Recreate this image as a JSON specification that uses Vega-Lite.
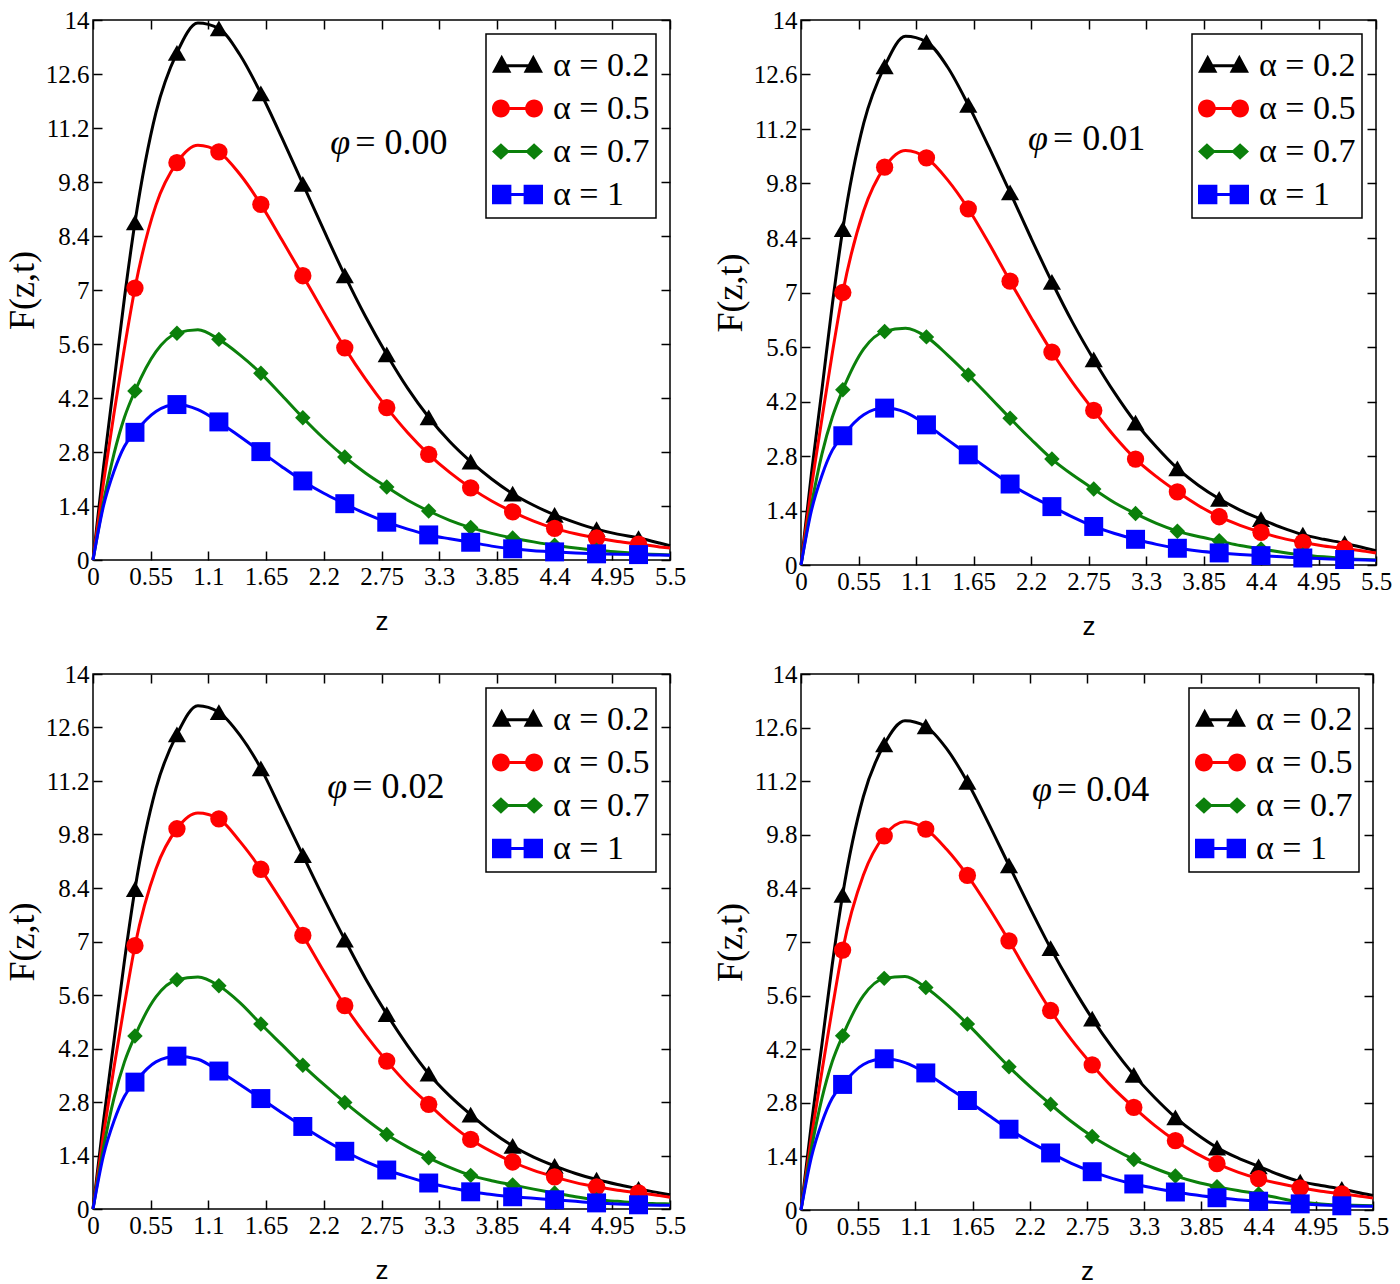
{
"$schema": "https://vega.github.io/schema/vega-lite/v6.json",
"background": "white",
"padding": {"left": 3, "top": 7, "right": 5, "bottom": 5},
"datasets": {
"notes": [
{"p":"0.00","z":2.5,"F":10.8,"t":"= 0.00"},
{"p":"0.01","z":2.41,"F":10.95,"t":"= 0.01"},
{"p":"0.02","z":2.47,"F":11.05,"t":"= 0.02"},
{"p":"0.04","z":2.46,"F":10.97,"t":"= 0.04"}
],
"curves": [
{"p":"0.00","s":"α = 0.2","z":0,"F":0},{"p":"0.00","s":"α = 0.2","z":0.1,"F":2.4},{"p":"0.00","s":"α = 0.2","z":0.2,"F":4.6},{"p":"0.00","s":"α = 0.2","z":0.3,"F":6.8},{"p":"0.00","s":"α = 0.2","z":0.4,"F":8.75,"m":1},{"p":"0.00","s":"α = 0.2","z":0.6,"F":11.6},{"p":"0.00","s":"α = 0.2","z":0.8,"F":13.15,"m":1},{"p":"0.00","s":"α = 0.2","z":1,"F":13.92},{"p":"0.00","s":"α = 0.2","z":1.2,"F":13.78,"m":1},{"p":"0.00","s":"α = 0.2","z":1.4,"F":13.1},{"p":"0.00","s":"α = 0.2","z":1.6,"F":12.1,"m":1},{"p":"0.00","s":"α = 0.2","z":1.8,"F":10.95},{"p":"0.00","s":"α = 0.2","z":2,"F":9.75,"m":1},{"p":"0.00","s":"α = 0.2","z":2.2,"F":8.55},{"p":"0.00","s":"α = 0.2","z":2.4,"F":7.38,"m":1},{"p":"0.00","s":"α = 0.2","z":2.6,"F":6.3},{"p":"0.00","s":"α = 0.2","z":2.8,"F":5.33,"m":1},{"p":"0.00","s":"α = 0.2","z":3,"F":4.45},{"p":"0.00","s":"α = 0.2","z":3.2,"F":3.7,"m":1},{"p":"0.00","s":"α = 0.2","z":3.4,"F":3.07},{"p":"0.00","s":"α = 0.2","z":3.6,"F":2.55,"m":1},{"p":"0.00","s":"α = 0.2","z":3.8,"F":2.1},{"p":"0.00","s":"α = 0.2","z":4,"F":1.72,"m":1},{"p":"0.00","s":"α = 0.2","z":4.2,"F":1.42},{"p":"0.00","s":"α = 0.2","z":4.4,"F":1.17,"m":1},{"p":"0.00","s":"α = 0.2","z":4.6,"F":0.97},{"p":"0.00","s":"α = 0.2","z":4.8,"F":0.8,"m":1},{"p":"0.00","s":"α = 0.2","z":5,"F":0.67},{"p":"0.00","s":"α = 0.2","z":5.2,"F":0.57,"m":1},{"p":"0.00","s":"α = 0.2","z":5.4,"F":0.44},{"p":"0.00","s":"α = 0.2","z":5.5,"F":0.37},
{"p":"0.00","s":"α = 0.5","z":0,"F":0},{"p":"0.00","s":"α = 0.5","z":0.1,"F":2.0},{"p":"0.00","s":"α = 0.5","z":0.2,"F":3.8},{"p":"0.00","s":"α = 0.5","z":0.3,"F":5.5},{"p":"0.00","s":"α = 0.5","z":0.4,"F":7.05,"m":1},{"p":"0.00","s":"α = 0.5","z":0.6,"F":9.2},{"p":"0.00","s":"α = 0.5","z":0.8,"F":10.3,"m":1},{"p":"0.00","s":"α = 0.5","z":1,"F":10.75},{"p":"0.00","s":"α = 0.5","z":1.2,"F":10.58,"m":1},{"p":"0.00","s":"α = 0.5","z":1.4,"F":10.0},{"p":"0.00","s":"α = 0.5","z":1.6,"F":9.22,"m":1},{"p":"0.00","s":"α = 0.5","z":1.8,"F":8.3},{"p":"0.00","s":"α = 0.5","z":2,"F":7.37,"m":1},{"p":"0.00","s":"α = 0.5","z":2.2,"F":6.42},{"p":"0.00","s":"α = 0.5","z":2.4,"F":5.5,"m":1},{"p":"0.00","s":"α = 0.5","z":2.6,"F":4.68},{"p":"0.00","s":"α = 0.5","z":2.8,"F":3.95,"m":1},{"p":"0.00","s":"α = 0.5","z":3,"F":3.3},{"p":"0.00","s":"α = 0.5","z":3.2,"F":2.74,"m":1},{"p":"0.00","s":"α = 0.5","z":3.4,"F":2.27},{"p":"0.00","s":"α = 0.5","z":3.6,"F":1.87,"m":1},{"p":"0.00","s":"α = 0.5","z":3.8,"F":1.53},{"p":"0.00","s":"α = 0.5","z":4,"F":1.25,"m":1},{"p":"0.00","s":"α = 0.5","z":4.2,"F":1.01},{"p":"0.00","s":"α = 0.5","z":4.4,"F":0.82,"m":1},{"p":"0.00","s":"α = 0.5","z":4.6,"F":0.68},{"p":"0.00","s":"α = 0.5","z":4.8,"F":0.57,"m":1},{"p":"0.00","s":"α = 0.5","z":5,"F":0.48},{"p":"0.00","s":"α = 0.5","z":5.2,"F":0.41,"m":1},{"p":"0.00","s":"α = 0.5","z":5.4,"F":0.34},{"p":"0.00","s":"α = 0.5","z":5.5,"F":0.31},
{"p":"0.00","s":"α = 0.7","z":0,"F":0},{"p":"0.00","s":"α = 0.7","z":0.1,"F":1.5},{"p":"0.00","s":"α = 0.7","z":0.2,"F":2.75},{"p":"0.00","s":"α = 0.7","z":0.3,"F":3.7},{"p":"0.00","s":"α = 0.7","z":0.4,"F":4.38,"m":1},{"p":"0.00","s":"α = 0.7","z":0.6,"F":5.4},{"p":"0.00","s":"α = 0.7","z":0.8,"F":5.88,"m":1},{"p":"0.00","s":"α = 0.7","z":1,"F":5.97},{"p":"0.00","s":"α = 0.7","z":1.2,"F":5.72,"m":1},{"p":"0.00","s":"α = 0.7","z":1.4,"F":5.32},{"p":"0.00","s":"α = 0.7","z":1.6,"F":4.84,"m":1},{"p":"0.00","s":"α = 0.7","z":1.8,"F":4.27},{"p":"0.00","s":"α = 0.7","z":2,"F":3.69,"m":1},{"p":"0.00","s":"α = 0.7","z":2.2,"F":3.15},{"p":"0.00","s":"α = 0.7","z":2.4,"F":2.67,"m":1},{"p":"0.00","s":"α = 0.7","z":2.6,"F":2.25},{"p":"0.00","s":"α = 0.7","z":2.8,"F":1.89,"m":1},{"p":"0.00","s":"α = 0.7","z":3,"F":1.55},{"p":"0.00","s":"α = 0.7","z":3.2,"F":1.27,"m":1},{"p":"0.00","s":"α = 0.7","z":3.4,"F":1.03},{"p":"0.00","s":"α = 0.7","z":3.6,"F":0.84,"m":1},{"p":"0.00","s":"α = 0.7","z":3.8,"F":0.69},{"p":"0.00","s":"α = 0.7","z":4,"F":0.57,"m":1},{"p":"0.00","s":"α = 0.7","z":4.2,"F":0.47},{"p":"0.00","s":"α = 0.7","z":4.4,"F":0.38,"m":1},{"p":"0.00","s":"α = 0.7","z":4.6,"F":0.31},{"p":"0.00","s":"α = 0.7","z":4.8,"F":0.25,"m":1},{"p":"0.00","s":"α = 0.7","z":5,"F":0.21},{"p":"0.00","s":"α = 0.7","z":5.2,"F":0.17,"m":1},{"p":"0.00","s":"α = 0.7","z":5.4,"F":0.14},{"p":"0.00","s":"α = 0.7","z":5.5,"F":0.13},
{"p":"0.00","s":"α = 1","z":0,"F":0},{"p":"0.00","s":"α = 1","z":0.1,"F":1.4},{"p":"0.00","s":"α = 1","z":0.2,"F":2.3},{"p":"0.00","s":"α = 1","z":0.3,"F":2.95},{"p":"0.00","s":"α = 1","z":0.4,"F":3.31,"m":1},{"p":"0.00","s":"α = 1","z":0.6,"F":3.85},{"p":"0.00","s":"α = 1","z":0.8,"F":4.03,"m":1},{"p":"0.00","s":"α = 1","z":1,"F":3.9},{"p":"0.00","s":"α = 1","z":1.2,"F":3.58,"m":1},{"p":"0.00","s":"α = 1","z":1.4,"F":3.2},{"p":"0.00","s":"α = 1","z":1.6,"F":2.81,"m":1},{"p":"0.00","s":"α = 1","z":1.8,"F":2.42},{"p":"0.00","s":"α = 1","z":2,"F":2.05,"m":1},{"p":"0.00","s":"α = 1","z":2.2,"F":1.73},{"p":"0.00","s":"α = 1","z":2.4,"F":1.46,"m":1},{"p":"0.00","s":"α = 1","z":2.6,"F":1.2},{"p":"0.00","s":"α = 1","z":2.8,"F":0.98,"m":1},{"p":"0.00","s":"α = 1","z":3,"F":0.8},{"p":"0.00","s":"α = 1","z":3.2,"F":0.65,"m":1},{"p":"0.00","s":"α = 1","z":3.4,"F":0.55},{"p":"0.00","s":"α = 1","z":3.6,"F":0.46,"m":1},{"p":"0.00","s":"α = 1","z":3.8,"F":0.36},{"p":"0.00","s":"α = 1","z":4,"F":0.29,"m":1},{"p":"0.00","s":"α = 1","z":4.2,"F":0.24},{"p":"0.00","s":"α = 1","z":4.4,"F":0.21,"m":1},{"p":"0.00","s":"α = 1","z":4.6,"F":0.18},{"p":"0.00","s":"α = 1","z":4.8,"F":0.16,"m":1},{"p":"0.00","s":"α = 1","z":5,"F":0.15},{"p":"0.00","s":"α = 1","z":5.2,"F":0.14,"m":1},{"p":"0.00","s":"α = 1","z":5.4,"F":0.13},{"p":"0.00","s":"α = 1","z":5.5,"F":0.12},

{"p":"0.01","s":"α = 0.2","z":0,"F":0},{"p":"0.01","s":"α = 0.2","z":0.1,"F":2.35},{"p":"0.01","s":"α = 0.2","z":0.2,"F":4.5},{"p":"0.01","s":"α = 0.2","z":0.3,"F":6.7},{"p":"0.01","s":"α = 0.2","z":0.4,"F":8.63,"m":1},{"p":"0.01","s":"α = 0.2","z":0.6,"F":11.35},{"p":"0.01","s":"α = 0.2","z":0.8,"F":12.81,"m":1},{"p":"0.01","s":"α = 0.2","z":1,"F":13.58},{"p":"0.01","s":"α = 0.2","z":1.2,"F":13.44,"m":1},{"p":"0.01","s":"α = 0.2","z":1.4,"F":12.8},{"p":"0.01","s":"α = 0.2","z":1.6,"F":11.82,"m":1},{"p":"0.01","s":"α = 0.2","z":1.8,"F":10.72},{"p":"0.01","s":"α = 0.2","z":2,"F":9.57,"m":1},{"p":"0.01","s":"α = 0.2","z":2.2,"F":8.4},{"p":"0.01","s":"α = 0.2","z":2.4,"F":7.27,"m":1},{"p":"0.01","s":"α = 0.2","z":2.6,"F":6.22},{"p":"0.01","s":"α = 0.2","z":2.8,"F":5.28,"m":1},{"p":"0.01","s":"α = 0.2","z":3,"F":4.42},{"p":"0.01","s":"α = 0.2","z":3.2,"F":3.66,"m":1},{"p":"0.01","s":"α = 0.2","z":3.4,"F":3.03},{"p":"0.01","s":"α = 0.2","z":3.6,"F":2.48,"m":1},{"p":"0.01","s":"α = 0.2","z":3.8,"F":2.05},{"p":"0.01","s":"α = 0.2","z":4,"F":1.7,"m":1},{"p":"0.01","s":"α = 0.2","z":4.2,"F":1.41},{"p":"0.01","s":"α = 0.2","z":4.4,"F":1.18,"m":1},{"p":"0.01","s":"α = 0.2","z":4.6,"F":0.96},{"p":"0.01","s":"α = 0.2","z":4.8,"F":0.78,"m":1},{"p":"0.01","s":"α = 0.2","z":5,"F":0.66},{"p":"0.01","s":"α = 0.2","z":5.2,"F":0.56,"m":1},{"p":"0.01","s":"α = 0.2","z":5.4,"F":0.43},{"p":"0.01","s":"α = 0.2","z":5.5,"F":0.37},
{"p":"0.01","s":"α = 0.5","z":0,"F":0},{"p":"0.01","s":"α = 0.5","z":0.1,"F":2.0},{"p":"0.01","s":"α = 0.5","z":0.2,"F":3.75},{"p":"0.01","s":"α = 0.5","z":0.3,"F":5.45},{"p":"0.01","s":"α = 0.5","z":0.4,"F":7.0,"m":1},{"p":"0.01","s":"α = 0.5","z":0.6,"F":9.1},{"p":"0.01","s":"α = 0.5","z":0.8,"F":10.22,"m":1},{"p":"0.01","s":"α = 0.5","z":1,"F":10.65},{"p":"0.01","s":"α = 0.5","z":1.2,"F":10.46,"m":1},{"p":"0.01","s":"α = 0.5","z":1.4,"F":9.9},{"p":"0.01","s":"α = 0.5","z":1.6,"F":9.15,"m":1},{"p":"0.01","s":"α = 0.5","z":1.8,"F":8.25},{"p":"0.01","s":"α = 0.5","z":2,"F":7.29,"m":1},{"p":"0.01","s":"α = 0.5","z":2.2,"F":6.36},{"p":"0.01","s":"α = 0.5","z":2.4,"F":5.47,"m":1},{"p":"0.01","s":"α = 0.5","z":2.6,"F":4.68},{"p":"0.01","s":"α = 0.5","z":2.8,"F":3.97,"m":1},{"p":"0.01","s":"α = 0.5","z":3,"F":3.3},{"p":"0.01","s":"α = 0.5","z":3.2,"F":2.72,"m":1},{"p":"0.01","s":"α = 0.5","z":3.4,"F":2.27},{"p":"0.01","s":"α = 0.5","z":3.6,"F":1.88,"m":1},{"p":"0.01","s":"α = 0.5","z":3.8,"F":1.53},{"p":"0.01","s":"α = 0.5","z":4,"F":1.24,"m":1},{"p":"0.01","s":"α = 0.5","z":4.2,"F":1.02},{"p":"0.01","s":"α = 0.5","z":4.4,"F":0.84,"m":1},{"p":"0.01","s":"α = 0.5","z":4.6,"F":0.69},{"p":"0.01","s":"α = 0.5","z":4.8,"F":0.58,"m":1},{"p":"0.01","s":"α = 0.5","z":5,"F":0.49},{"p":"0.01","s":"α = 0.5","z":5.2,"F":0.42,"m":1},{"p":"0.01","s":"α = 0.5","z":5.4,"F":0.35},{"p":"0.01","s":"α = 0.5","z":5.5,"F":0.31},
{"p":"0.01","s":"α = 0.7","z":0,"F":0},{"p":"0.01","s":"α = 0.7","z":0.1,"F":1.55},{"p":"0.01","s":"α = 0.7","z":0.2,"F":2.85},{"p":"0.01","s":"α = 0.7","z":0.3,"F":3.8},{"p":"0.01","s":"α = 0.7","z":0.4,"F":4.5,"m":1},{"p":"0.01","s":"α = 0.7","z":0.6,"F":5.55},{"p":"0.01","s":"α = 0.7","z":0.8,"F":6.0,"m":1},{"p":"0.01","s":"α = 0.7","z":1,"F":6.08},{"p":"0.01","s":"α = 0.7","z":1.2,"F":5.86,"m":1},{"p":"0.01","s":"α = 0.7","z":1.4,"F":5.4},{"p":"0.01","s":"α = 0.7","z":1.6,"F":4.88,"m":1},{"p":"0.01","s":"α = 0.7","z":1.8,"F":4.33},{"p":"0.01","s":"α = 0.7","z":2,"F":3.77,"m":1},{"p":"0.01","s":"α = 0.7","z":2.2,"F":3.23},{"p":"0.01","s":"α = 0.7","z":2.4,"F":2.72,"m":1},{"p":"0.01","s":"α = 0.7","z":2.6,"F":2.31},{"p":"0.01","s":"α = 0.7","z":2.8,"F":1.95,"m":1},{"p":"0.01","s":"α = 0.7","z":3,"F":1.6},{"p":"0.01","s":"α = 0.7","z":3.2,"F":1.32,"m":1},{"p":"0.01","s":"α = 0.7","z":3.4,"F":1.07},{"p":"0.01","s":"α = 0.7","z":3.6,"F":0.87,"m":1},{"p":"0.01","s":"α = 0.7","z":3.8,"F":0.73},{"p":"0.01","s":"α = 0.7","z":4,"F":0.62,"m":1},{"p":"0.01","s":"α = 0.7","z":4.2,"F":0.5},{"p":"0.01","s":"α = 0.7","z":4.4,"F":0.41,"m":1},{"p":"0.01","s":"α = 0.7","z":4.6,"F":0.33},{"p":"0.01","s":"α = 0.7","z":4.8,"F":0.26,"m":1},{"p":"0.01","s":"α = 0.7","z":5,"F":0.21},{"p":"0.01","s":"α = 0.7","z":5.2,"F":0.17,"m":1},{"p":"0.01","s":"α = 0.7","z":5.4,"F":0.14},{"p":"0.01","s":"α = 0.7","z":5.5,"F":0.13},
{"p":"0.01","s":"α = 1","z":0,"F":0},{"p":"0.01","s":"α = 1","z":0.1,"F":1.4},{"p":"0.01","s":"α = 1","z":0.2,"F":2.3},{"p":"0.01","s":"α = 1","z":0.3,"F":2.95},{"p":"0.01","s":"α = 1","z":0.4,"F":3.32,"m":1},{"p":"0.01","s":"α = 1","z":0.6,"F":3.86},{"p":"0.01","s":"α = 1","z":0.8,"F":4.03,"m":1},{"p":"0.01","s":"α = 1","z":1,"F":3.92},{"p":"0.01","s":"α = 1","z":1.2,"F":3.6,"m":1},{"p":"0.01","s":"α = 1","z":1.4,"F":3.22},{"p":"0.01","s":"α = 1","z":1.6,"F":2.83,"m":1},{"p":"0.01","s":"α = 1","z":1.8,"F":2.45},{"p":"0.01","s":"α = 1","z":2,"F":2.08,"m":1},{"p":"0.01","s":"α = 1","z":2.2,"F":1.77},{"p":"0.01","s":"α = 1","z":2.4,"F":1.5,"m":1},{"p":"0.01","s":"α = 1","z":2.6,"F":1.23},{"p":"0.01","s":"α = 1","z":2.8,"F":0.99,"m":1},{"p":"0.01","s":"α = 1","z":3,"F":0.81},{"p":"0.01","s":"α = 1","z":3.2,"F":0.66,"m":1},{"p":"0.01","s":"α = 1","z":3.4,"F":0.53},{"p":"0.01","s":"α = 1","z":3.6,"F":0.43,"m":1},{"p":"0.01","s":"α = 1","z":3.8,"F":0.36},{"p":"0.01","s":"α = 1","z":4,"F":0.31,"m":1},{"p":"0.01","s":"α = 1","z":4.2,"F":0.27},{"p":"0.01","s":"α = 1","z":4.4,"F":0.24,"m":1},{"p":"0.01","s":"α = 1","z":4.6,"F":0.21},{"p":"0.01","s":"α = 1","z":4.8,"F":0.18,"m":1},{"p":"0.01","s":"α = 1","z":5,"F":0.16},{"p":"0.01","s":"α = 1","z":5.2,"F":0.14,"m":1},{"p":"0.01","s":"α = 1","z":5.4,"F":0.13},{"p":"0.01","s":"α = 1","z":5.5,"F":0.12},

{"p":"0.02","s":"α = 0.2","z":0,"F":0},{"p":"0.02","s":"α = 0.2","z":0.1,"F":2.3},{"p":"0.02","s":"α = 0.2","z":0.2,"F":4.4},{"p":"0.02","s":"α = 0.2","z":0.3,"F":6.5},{"p":"0.02","s":"α = 0.2","z":0.4,"F":8.37,"m":1},{"p":"0.02","s":"α = 0.2","z":0.6,"F":11.0},{"p":"0.02","s":"α = 0.2","z":0.8,"F":12.42,"m":1},{"p":"0.02","s":"α = 0.2","z":1,"F":13.17},{"p":"0.02","s":"α = 0.2","z":1.2,"F":13.0,"m":1},{"p":"0.02","s":"α = 0.2","z":1.4,"F":12.4},{"p":"0.02","s":"α = 0.2","z":1.6,"F":11.53,"m":1},{"p":"0.02","s":"α = 0.2","z":1.8,"F":10.4},{"p":"0.02","s":"α = 0.2","z":2,"F":9.26,"m":1},{"p":"0.02","s":"α = 0.2","z":2.2,"F":8.13},{"p":"0.02","s":"α = 0.2","z":2.4,"F":7.05,"m":1},{"p":"0.02","s":"α = 0.2","z":2.6,"F":6.02},{"p":"0.02","s":"α = 0.2","z":2.8,"F":5.1,"m":1},{"p":"0.02","s":"α = 0.2","z":3,"F":4.27},{"p":"0.02","s":"α = 0.2","z":3.2,"F":3.54,"m":1},{"p":"0.02","s":"α = 0.2","z":3.4,"F":2.96},{"p":"0.02","s":"α = 0.2","z":3.6,"F":2.47,"m":1},{"p":"0.02","s":"α = 0.2","z":3.8,"F":2.02},{"p":"0.02","s":"α = 0.2","z":4,"F":1.65,"m":1},{"p":"0.02","s":"α = 0.2","z":4.2,"F":1.36},{"p":"0.02","s":"α = 0.2","z":4.4,"F":1.13,"m":1},{"p":"0.02","s":"α = 0.2","z":4.6,"F":0.93},{"p":"0.02","s":"α = 0.2","z":4.8,"F":0.77,"m":1},{"p":"0.02","s":"α = 0.2","z":5,"F":0.64},{"p":"0.02","s":"α = 0.2","z":5.2,"F":0.53,"m":1},{"p":"0.02","s":"α = 0.2","z":5.4,"F":0.42},{"p":"0.02","s":"α = 0.2","z":5.5,"F":0.37},
{"p":"0.02","s":"α = 0.5","z":0,"F":0},{"p":"0.02","s":"α = 0.5","z":0.1,"F":1.95},{"p":"0.02","s":"α = 0.5","z":0.2,"F":3.7},{"p":"0.02","s":"α = 0.5","z":0.3,"F":5.35},{"p":"0.02","s":"α = 0.5","z":0.4,"F":6.89,"m":1},{"p":"0.02","s":"α = 0.5","z":0.6,"F":8.9},{"p":"0.02","s":"α = 0.5","z":0.8,"F":9.95,"m":1},{"p":"0.02","s":"α = 0.5","z":1,"F":10.36},{"p":"0.02","s":"α = 0.5","z":1.2,"F":10.21,"m":1},{"p":"0.02","s":"α = 0.5","z":1.4,"F":9.62},{"p":"0.02","s":"α = 0.5","z":1.6,"F":8.89,"m":1},{"p":"0.02","s":"α = 0.5","z":1.8,"F":8.05},{"p":"0.02","s":"α = 0.5","z":2,"F":7.16,"m":1},{"p":"0.02","s":"α = 0.5","z":2.2,"F":6.22},{"p":"0.02","s":"α = 0.5","z":2.4,"F":5.32,"m":1},{"p":"0.02","s":"α = 0.5","z":2.6,"F":4.55},{"p":"0.02","s":"α = 0.5","z":2.8,"F":3.87,"m":1},{"p":"0.02","s":"α = 0.5","z":3,"F":3.26},{"p":"0.02","s":"α = 0.5","z":3.2,"F":2.74,"m":1},{"p":"0.02","s":"α = 0.5","z":3.4,"F":2.24},{"p":"0.02","s":"α = 0.5","z":3.6,"F":1.82,"m":1},{"p":"0.02","s":"α = 0.5","z":3.8,"F":1.5},{"p":"0.02","s":"α = 0.5","z":4,"F":1.23,"m":1},{"p":"0.02","s":"α = 0.5","z":4.2,"F":1.01},{"p":"0.02","s":"α = 0.5","z":4.4,"F":0.84,"m":1},{"p":"0.02","s":"α = 0.5","z":4.6,"F":0.69},{"p":"0.02","s":"α = 0.5","z":4.8,"F":0.58,"m":1},{"p":"0.02","s":"α = 0.5","z":5,"F":0.49},{"p":"0.02","s":"α = 0.5","z":5.2,"F":0.42,"m":1},{"p":"0.02","s":"α = 0.5","z":5.4,"F":0.35},{"p":"0.02","s":"α = 0.5","z":5.5,"F":0.31},
{"p":"0.02","s":"α = 0.7","z":0,"F":0},{"p":"0.02","s":"α = 0.7","z":0.1,"F":1.6},{"p":"0.02","s":"α = 0.7","z":0.2,"F":2.9},{"p":"0.02","s":"α = 0.7","z":0.3,"F":3.85},{"p":"0.02","s":"α = 0.7","z":0.4,"F":4.53,"m":1},{"p":"0.02","s":"α = 0.7","z":0.6,"F":5.55},{"p":"0.02","s":"α = 0.7","z":0.8,"F":6.0,"m":1},{"p":"0.02","s":"α = 0.7","z":1,"F":6.07},{"p":"0.02","s":"α = 0.7","z":1.2,"F":5.84,"m":1},{"p":"0.02","s":"α = 0.7","z":1.4,"F":5.4},{"p":"0.02","s":"α = 0.7","z":1.6,"F":4.84,"m":1},{"p":"0.02","s":"α = 0.7","z":1.8,"F":4.3},{"p":"0.02","s":"α = 0.7","z":2,"F":3.76,"m":1},{"p":"0.02","s":"α = 0.7","z":2.2,"F":3.26},{"p":"0.02","s":"α = 0.7","z":2.4,"F":2.79,"m":1},{"p":"0.02","s":"α = 0.7","z":2.6,"F":2.35},{"p":"0.02","s":"α = 0.7","z":2.8,"F":1.95,"m":1},{"p":"0.02","s":"α = 0.7","z":3,"F":1.62},{"p":"0.02","s":"α = 0.7","z":3.2,"F":1.34,"m":1},{"p":"0.02","s":"α = 0.7","z":3.4,"F":1.09},{"p":"0.02","s":"α = 0.7","z":3.6,"F":0.88,"m":1},{"p":"0.02","s":"α = 0.7","z":3.8,"F":0.74},{"p":"0.02","s":"α = 0.7","z":4,"F":0.63,"m":1},{"p":"0.02","s":"α = 0.7","z":4.2,"F":0.52},{"p":"0.02","s":"α = 0.7","z":4.4,"F":0.42,"m":1},{"p":"0.02","s":"α = 0.7","z":4.6,"F":0.32},{"p":"0.02","s":"α = 0.7","z":4.8,"F":0.24,"m":1},{"p":"0.02","s":"α = 0.7","z":5,"F":0.2},{"p":"0.02","s":"α = 0.7","z":5.2,"F":0.16,"m":1},{"p":"0.02","s":"α = 0.7","z":5.4,"F":0.14},{"p":"0.02","s":"α = 0.7","z":5.5,"F":0.13},
{"p":"0.02","s":"α = 1","z":0,"F":0},{"p":"0.02","s":"α = 1","z":0.1,"F":1.4},{"p":"0.02","s":"α = 1","z":0.2,"F":2.3},{"p":"0.02","s":"α = 1","z":0.3,"F":2.95},{"p":"0.02","s":"α = 1","z":0.4,"F":3.32,"m":1},{"p":"0.02","s":"α = 1","z":0.6,"F":3.85},{"p":"0.02","s":"α = 1","z":0.8,"F":4.0,"m":1},{"p":"0.02","s":"α = 1","z":1,"F":3.92},{"p":"0.02","s":"α = 1","z":1.2,"F":3.61,"m":1},{"p":"0.02","s":"α = 1","z":1.4,"F":3.26},{"p":"0.02","s":"α = 1","z":1.6,"F":2.89,"m":1},{"p":"0.02","s":"α = 1","z":1.8,"F":2.52},{"p":"0.02","s":"α = 1","z":2,"F":2.16,"m":1},{"p":"0.02","s":"α = 1","z":2.2,"F":1.82},{"p":"0.02","s":"α = 1","z":2.4,"F":1.51,"m":1},{"p":"0.02","s":"α = 1","z":2.6,"F":1.24},{"p":"0.02","s":"α = 1","z":2.8,"F":1.02,"m":1},{"p":"0.02","s":"α = 1","z":3,"F":0.84},{"p":"0.02","s":"α = 1","z":3.2,"F":0.68,"m":1},{"p":"0.02","s":"α = 1","z":3.4,"F":0.56},{"p":"0.02","s":"α = 1","z":3.6,"F":0.45,"m":1},{"p":"0.02","s":"α = 1","z":3.8,"F":0.38},{"p":"0.02","s":"α = 1","z":4,"F":0.32,"m":1},{"p":"0.02","s":"α = 1","z":4.2,"F":0.28},{"p":"0.02","s":"α = 1","z":4.4,"F":0.24,"m":1},{"p":"0.02","s":"α = 1","z":4.6,"F":0.2},{"p":"0.02","s":"α = 1","z":4.8,"F":0.16,"m":1},{"p":"0.02","s":"α = 1","z":5,"F":0.13},{"p":"0.02","s":"α = 1","z":5.2,"F":0.11,"m":1},{"p":"0.02","s":"α = 1","z":5.4,"F":0.1},{"p":"0.02","s":"α = 1","z":5.5,"F":0.1},

{"p":"0.04","s":"α = 0.2","z":0,"F":0},{"p":"0.04","s":"α = 0.2","z":0.1,"F":2.25},{"p":"0.04","s":"α = 0.2","z":0.2,"F":4.3},{"p":"0.04","s":"α = 0.2","z":0.3,"F":6.4},{"p":"0.04","s":"α = 0.2","z":0.4,"F":8.23,"m":1},{"p":"0.04","s":"α = 0.2","z":0.6,"F":10.8},{"p":"0.04","s":"α = 0.2","z":0.8,"F":12.16,"m":1},{"p":"0.04","s":"α = 0.2","z":1,"F":12.78},{"p":"0.04","s":"α = 0.2","z":1.2,"F":12.63,"m":1},{"p":"0.04","s":"α = 0.2","z":1.4,"F":12.05},{"p":"0.04","s":"α = 0.2","z":1.6,"F":11.18,"m":1},{"p":"0.04","s":"α = 0.2","z":1.8,"F":10.12},{"p":"0.04","s":"α = 0.2","z":2,"F":9.0,"m":1},{"p":"0.04","s":"α = 0.2","z":2.2,"F":7.9},{"p":"0.04","s":"α = 0.2","z":2.4,"F":6.84,"m":1},{"p":"0.04","s":"α = 0.2","z":2.6,"F":5.88},{"p":"0.04","s":"α = 0.2","z":2.8,"F":5.0,"m":1},{"p":"0.04","s":"α = 0.2","z":3,"F":4.22},{"p":"0.04","s":"α = 0.2","z":3.2,"F":3.53,"m":1},{"p":"0.04","s":"α = 0.2","z":3.4,"F":2.94},{"p":"0.04","s":"α = 0.2","z":3.6,"F":2.42,"m":1},{"p":"0.04","s":"α = 0.2","z":3.8,"F":1.99},{"p":"0.04","s":"α = 0.2","z":4,"F":1.63,"m":1},{"p":"0.04","s":"α = 0.2","z":4.2,"F":1.36},{"p":"0.04","s":"α = 0.2","z":4.4,"F":1.14,"m":1},{"p":"0.04","s":"α = 0.2","z":4.6,"F":0.92},{"p":"0.04","s":"α = 0.2","z":4.8,"F":0.74,"m":1},{"p":"0.04","s":"α = 0.2","z":5,"F":0.64},{"p":"0.04","s":"α = 0.2","z":5.2,"F":0.55,"m":1},{"p":"0.04","s":"α = 0.2","z":5.4,"F":0.43},{"p":"0.04","s":"α = 0.2","z":5.5,"F":0.38},
{"p":"0.04","s":"α = 0.5","z":0,"F":0},{"p":"0.04","s":"α = 0.5","z":0.1,"F":1.9},{"p":"0.04","s":"α = 0.5","z":0.2,"F":3.6},{"p":"0.04","s":"α = 0.5","z":0.3,"F":5.25},{"p":"0.04","s":"α = 0.5","z":0.4,"F":6.79,"m":1},{"p":"0.04","s":"α = 0.5","z":0.6,"F":8.75},{"p":"0.04","s":"α = 0.5","z":0.8,"F":9.77,"m":1},{"p":"0.04","s":"α = 0.5","z":1,"F":10.14},{"p":"0.04","s":"α = 0.5","z":1.2,"F":9.95,"m":1},{"p":"0.04","s":"α = 0.5","z":1.4,"F":9.42},{"p":"0.04","s":"α = 0.5","z":1.6,"F":8.74,"m":1},{"p":"0.04","s":"α = 0.5","z":1.8,"F":7.92},{"p":"0.04","s":"α = 0.5","z":2,"F":7.03,"m":1},{"p":"0.04","s":"α = 0.5","z":2.2,"F":6.1},{"p":"0.04","s":"α = 0.5","z":2.4,"F":5.21,"m":1},{"p":"0.04","s":"α = 0.5","z":2.6,"F":4.45},{"p":"0.04","s":"α = 0.5","z":2.8,"F":3.79,"m":1},{"p":"0.04","s":"α = 0.5","z":3,"F":3.19},{"p":"0.04","s":"α = 0.5","z":3.2,"F":2.68,"m":1},{"p":"0.04","s":"α = 0.5","z":3.4,"F":2.21},{"p":"0.04","s":"α = 0.5","z":3.6,"F":1.81,"m":1},{"p":"0.04","s":"α = 0.5","z":3.8,"F":1.48},{"p":"0.04","s":"α = 0.5","z":4,"F":1.21,"m":1},{"p":"0.04","s":"α = 0.5","z":4.2,"F":0.99},{"p":"0.04","s":"α = 0.5","z":4.4,"F":0.82,"m":1},{"p":"0.04","s":"α = 0.5","z":4.6,"F":0.69},{"p":"0.04","s":"α = 0.5","z":4.8,"F":0.58,"m":1},{"p":"0.04","s":"α = 0.5","z":5,"F":0.49},{"p":"0.04","s":"α = 0.5","z":5.2,"F":0.42,"m":1},{"p":"0.04","s":"α = 0.5","z":5.4,"F":0.35},{"p":"0.04","s":"α = 0.5","z":5.5,"F":0.31},
{"p":"0.04","s":"α = 0.7","z":0,"F":0},{"p":"0.04","s":"α = 0.7","z":0.1,"F":1.6},{"p":"0.04","s":"α = 0.7","z":0.2,"F":2.9},{"p":"0.04","s":"α = 0.7","z":0.3,"F":3.87},{"p":"0.04","s":"α = 0.7","z":0.4,"F":4.55,"m":1},{"p":"0.04","s":"α = 0.7","z":0.6,"F":5.6},{"p":"0.04","s":"α = 0.7","z":0.8,"F":6.05,"m":1},{"p":"0.04","s":"α = 0.7","z":1,"F":6.1},{"p":"0.04","s":"α = 0.7","z":1.2,"F":5.81,"m":1},{"p":"0.04","s":"α = 0.7","z":1.4,"F":5.37},{"p":"0.04","s":"α = 0.7","z":1.6,"F":4.86,"m":1},{"p":"0.04","s":"α = 0.7","z":1.8,"F":4.3},{"p":"0.04","s":"α = 0.7","z":2,"F":3.74,"m":1},{"p":"0.04","s":"α = 0.7","z":2.2,"F":3.23},{"p":"0.04","s":"α = 0.7","z":2.4,"F":2.76,"m":1},{"p":"0.04","s":"α = 0.7","z":2.6,"F":2.31},{"p":"0.04","s":"α = 0.7","z":2.8,"F":1.92,"m":1},{"p":"0.04","s":"α = 0.7","z":3,"F":1.6},{"p":"0.04","s":"α = 0.7","z":3.2,"F":1.32,"m":1},{"p":"0.04","s":"α = 0.7","z":3.4,"F":1.09},{"p":"0.04","s":"α = 0.7","z":3.6,"F":0.89,"m":1},{"p":"0.04","s":"α = 0.7","z":3.8,"F":0.73},{"p":"0.04","s":"α = 0.7","z":4,"F":0.61,"m":1},{"p":"0.04","s":"α = 0.7","z":4.2,"F":0.51},{"p":"0.04","s":"α = 0.7","z":4.4,"F":0.42,"m":1},{"p":"0.04","s":"α = 0.7","z":4.6,"F":0.31},{"p":"0.04","s":"α = 0.7","z":4.8,"F":0.21,"m":1},{"p":"0.04","s":"α = 0.7","z":5,"F":0.16},{"p":"0.04","s":"α = 0.7","z":5.2,"F":0.13,"m":1},{"p":"0.04","s":"α = 0.7","z":5.4,"F":0.12},{"p":"0.04","s":"α = 0.7","z":5.5,"F":0.11},
{"p":"0.04","s":"α = 1","z":0,"F":0},{"p":"0.04","s":"α = 1","z":0.1,"F":1.38},{"p":"0.04","s":"α = 1","z":0.2,"F":2.28},{"p":"0.04","s":"α = 1","z":0.3,"F":2.92},{"p":"0.04","s":"α = 1","z":0.4,"F":3.28,"m":1},{"p":"0.04","s":"α = 1","z":0.6,"F":3.8},{"p":"0.04","s":"α = 1","z":0.8,"F":3.95,"m":1},{"p":"0.04","s":"α = 1","z":1,"F":3.85},{"p":"0.04","s":"α = 1","z":1.2,"F":3.58,"m":1},{"p":"0.04","s":"α = 1","z":1.4,"F":3.22},{"p":"0.04","s":"α = 1","z":1.6,"F":2.86,"m":1},{"p":"0.04","s":"α = 1","z":1.8,"F":2.48},{"p":"0.04","s":"α = 1","z":2,"F":2.11,"m":1},{"p":"0.04","s":"α = 1","z":2.2,"F":1.78},{"p":"0.04","s":"α = 1","z":2.4,"F":1.49,"m":1},{"p":"0.04","s":"α = 1","z":2.6,"F":1.22},{"p":"0.04","s":"α = 1","z":2.8,"F":1.0,"m":1},{"p":"0.04","s":"α = 1","z":3,"F":0.82},{"p":"0.04","s":"α = 1","z":3.2,"F":0.68,"m":1},{"p":"0.04","s":"α = 1","z":3.4,"F":0.57},{"p":"0.04","s":"α = 1","z":3.6,"F":0.47,"m":1},{"p":"0.04","s":"α = 1","z":3.8,"F":0.39},{"p":"0.04","s":"α = 1","z":4,"F":0.32,"m":1},{"p":"0.04","s":"α = 1","z":4.2,"F":0.27},{"p":"0.04","s":"α = 1","z":4.4,"F":0.23,"m":1},{"p":"0.04","s":"α = 1","z":4.6,"F":0.19},{"p":"0.04","s":"α = 1","z":4.8,"F":0.16,"m":1},{"p":"0.04","s":"α = 1","z":5,"F":0.13},{"p":"0.04","s":"α = 1","z":5.2,"F":0.11,"m":1},{"p":"0.04","s":"α = 1","z":5.4,"F":0.1},{"p":"0.04","s":"α = 1","z":5.5,"F":0.1}
]
},
"data": {"name": "curves"},
"spacing": 21,
"resolve": {"scale": {"color": "independent", "shape": "independent"}, "legend": {"color": "independent", "shape": "independent"}},
"vconcat": [
{
"spacing": 24,
"resolve": {"scale": {"color": "independent", "shape": "independent"}, "legend": {"color": "independent", "shape": "independent"}},
"hconcat": [
{
"width": 577, "height": 540,
"transform": [{"filter": "datum.p == '0.00'"}],
"layer": [
{"mark": {"type": "line", "strokeWidth": 3, "interpolate": "monotone"},
 "encoding": {
  "x": {"field": "z", "type": "quantitative", "scale": {"domain": [0, 5.5], "nice": false, "zero": false}, "axis": {"values": [0,0.55,1.1,1.65,2.2,2.75,3.3,3.85,4.4,4.95,5.5], "format": ".3~g", "labelFont": "Liberation Serif", "title": "z", "titleFont": "Liberation Sans", "titleFontSize": 26, "titlePadding": 19, "labelFlush": false, "labelOverlap": false}},
  "y": {"field": "F", "type": "quantitative", "scale": {"domain": [0, 14], "nice": false, "zero": false}, "axis": {"values": [0,1.4,2.8,4.2,5.6,7,8.4,9.8,11.2,12.6,14], "format": ".3~g", "labelFont": "Liberation Serif", "title": "F(z,t)", "titleFont": "Liberation Serif", "titleFontSize": 36, "titlePadding": 4, "labelOverlap": false}},
  "color": {"field": "s", "type": "nominal", "scale": {"domain": ["α = 0.2","α = 0.5","α = 0.7","α = 1"], "range": ["#000000","#ff0000","#0b800b","#0000ff"]}}
 }},
{"transform": [{"filter": "datum.m == 1 && datum.s == 'α = 0.2'"}],
 "mark": {"type": "point", "filled": true, "opacity": 1, "shape": "triangle-up", "size": 330},
 "encoding": {
  "x": {"field": "z", "type": "quantitative", "axis": {"orient": "top", "values": [0,0.55,1.1,1.65,2.2,2.75,3.3,3.85,4.4,4.95,5.5], "labels": false, "title": null}},
  "y": {"field": "F", "type": "quantitative", "axis": {"orient": "right", "values": [0,1.4,2.8,4.2,5.6,7,8.4,9.8,11.2,12.6,14], "labels": false, "title": null}},
  "color": {"field": "s", "type": "nominal"}
 }},
{"transform": [{"filter": "datum.m == 1 && datum.s == 'α = 0.5'"}],
 "mark": {"type": "point", "filled": true, "opacity": 1, "shape": "circle", "size": 300},
 "encoding": {"x": {"field": "z", "type": "quantitative", "axis": null}, "y": {"field": "F", "type": "quantitative", "axis": null}, "color": {"field": "s", "type": "nominal"}}},
{"transform": [{"filter": "datum.m == 1 && datum.s == 'α = 0.7'"}],
 "mark": {"type": "point", "filled": true, "opacity": 1, "shape": "diamond", "size": 240},
 "encoding": {"x": {"field": "z", "type": "quantitative", "axis": null}, "y": {"field": "F", "type": "quantitative", "axis": null}, "color": {"field": "s", "type": "nominal"}}},
{"transform": [{"filter": "datum.m == 1 && datum.s == 'α = 1'"}],
 "mark": {"type": "point", "filled": true, "opacity": 1, "shape": "square", "size": 360},
 "encoding": {"x": {"field": "z", "type": "quantitative", "axis": null}, "y": {"field": "F", "type": "quantitative", "axis": null}, "color": {"field": "s", "type": "nominal"}}},
{"transform": [{"filter": "false"}],
 "mark": {"type": "point", "filled": true, "opacity": 1},
 "encoding": {
  "color": {"field": "s", "type": "nominal"},
  "shape": {"field": "s", "type": "nominal", "scale": {"domain": ["α = 0.2","α = 0.5","α = 0.7","α = 1"], "range": ["M-1,0.28L-0.62,-0.42L-0.24,0.28Z M0.24,0.28L0.62,-0.42L1,0.28Z M-0.62,-0.05H0.62V0.07H-0.62Z","M-1,0A0.35,0.35 0 1,1 -0.3,0A0.35,0.35 0 1,1 -1,0Z M0.3,0A0.35,0.35 0 1,1 1,0A0.35,0.35 0 1,1 0.3,0Z M-0.65,-0.06H0.65V0.06H-0.65Z","M-1,0L-0.65,-0.32L-0.3,0L-0.65,0.32Z M0.3,0L0.65,-0.32L1,0L0.65,0.32Z M-0.65,-0.06H0.65V0.06H-0.65Z","M-1,-0.38H-0.24V0.38H-1Z M0.24,-0.38H1V0.38H0.24Z M-0.62,-0.06H0.62V0.06H-0.62Z"]}}
 }},
{"data": {"name": "notes"}, "transform": [{"filter": "datum.p == '0.00'"}],
 "mark": {"type": "text", "font": "Liberation Serif", "fontSize": 36, "fontStyle": "italic", "align": "right", "baseline": "middle", "dx": -5, "color": "black"},
 "encoding": {"x": {"field": "z", "type": "quantitative", "axis": null}, "y": {"field": "F", "type": "quantitative", "axis": null}, "text": {"value": "φ"}}},
{"data": {"name": "notes"}, "transform": [{"filter": "datum.p == '0.00'"}],
 "mark": {"type": "text", "font": "Liberation Serif", "fontSize": 36, "align": "left", "baseline": "middle", "color": "black"},
 "encoding": {"x": {"field": "z", "type": "quantitative", "axis": null}, "y": {"field": "F", "type": "quantitative", "axis": null}, "text": {"field": "t"}}}
],
"resolve": {"axis": {"x": "independent", "y": "independent"}}
},
{
"width": 575, "height": 545,
"transform": [{"filter": "datum.p == '0.01'"}],
"layer": [
{"mark": {"type": "line", "strokeWidth": 3, "interpolate": "monotone"},
 "encoding": {
  "x": {"field": "z", "type": "quantitative", "scale": {"domain": [0, 5.5], "nice": false, "zero": false}, "axis": {"values": [0,0.55,1.1,1.65,2.2,2.75,3.3,3.85,4.4,4.95,5.5], "format": ".3~g", "labelFont": "Liberation Serif", "title": "z", "titleFont": "Liberation Sans", "titleFontSize": 26, "titlePadding": 19, "labelFlush": false, "labelOverlap": false}},
  "y": {"field": "F", "type": "quantitative", "scale": {"domain": [0, 14], "nice": false, "zero": false}, "axis": {"values": [0,1.4,2.8,4.2,5.6,7,8.4,9.8,11.2,12.6,14], "format": ".3~g", "labelFont": "Liberation Serif", "title": "F(z,t)", "titleFont": "Liberation Serif", "titleFontSize": 36, "titlePadding": 4, "labelOverlap": false}},
  "color": {"field": "s", "type": "nominal", "scale": {"domain": ["α = 0.2","α = 0.5","α = 0.7","α = 1"], "range": ["#000000","#ff0000","#0b800b","#0000ff"]}}
 }},
{"transform": [{"filter": "datum.m == 1 && datum.s == 'α = 0.2'"}],
 "mark": {"type": "point", "filled": true, "opacity": 1, "shape": "triangle-up", "size": 330},
 "encoding": {
  "x": {"field": "z", "type": "quantitative", "axis": {"orient": "top", "values": [0,0.55,1.1,1.65,2.2,2.75,3.3,3.85,4.4,4.95,5.5], "labels": false, "title": null}},
  "y": {"field": "F", "type": "quantitative", "axis": {"orient": "right", "values": [0,1.4,2.8,4.2,5.6,7,8.4,9.8,11.2,12.6,14], "labels": false, "title": null}},
  "color": {"field": "s", "type": "nominal"}
 }},
{"transform": [{"filter": "datum.m == 1 && datum.s == 'α = 0.5'"}],
 "mark": {"type": "point", "filled": true, "opacity": 1, "shape": "circle", "size": 300},
 "encoding": {"x": {"field": "z", "type": "quantitative", "axis": null}, "y": {"field": "F", "type": "quantitative", "axis": null}, "color": {"field": "s", "type": "nominal"}}},
{"transform": [{"filter": "datum.m == 1 && datum.s == 'α = 0.7'"}],
 "mark": {"type": "point", "filled": true, "opacity": 1, "shape": "diamond", "size": 240},
 "encoding": {"x": {"field": "z", "type": "quantitative", "axis": null}, "y": {"field": "F", "type": "quantitative", "axis": null}, "color": {"field": "s", "type": "nominal"}}},
{"transform": [{"filter": "datum.m == 1 && datum.s == 'α = 1'"}],
 "mark": {"type": "point", "filled": true, "opacity": 1, "shape": "square", "size": 360},
 "encoding": {"x": {"field": "z", "type": "quantitative", "axis": null}, "y": {"field": "F", "type": "quantitative", "axis": null}, "color": {"field": "s", "type": "nominal"}}},
{"transform": [{"filter": "false"}],
 "mark": {"type": "point", "filled": true, "opacity": 1},
 "encoding": {
  "color": {"field": "s", "type": "nominal"},
  "shape": {"field": "s", "type": "nominal", "scale": {"domain": ["α = 0.2","α = 0.5","α = 0.7","α = 1"], "range": ["M-1,0.28L-0.62,-0.42L-0.24,0.28Z M0.24,0.28L0.62,-0.42L1,0.28Z M-0.62,-0.05H0.62V0.07H-0.62Z","M-1,0A0.35,0.35 0 1,1 -0.3,0A0.35,0.35 0 1,1 -1,0Z M0.3,0A0.35,0.35 0 1,1 1,0A0.35,0.35 0 1,1 0.3,0Z M-0.65,-0.06H0.65V0.06H-0.65Z","M-1,0L-0.65,-0.32L-0.3,0L-0.65,0.32Z M0.3,0L0.65,-0.32L1,0L0.65,0.32Z M-0.65,-0.06H0.65V0.06H-0.65Z","M-1,-0.38H-0.24V0.38H-1Z M0.24,-0.38H1V0.38H0.24Z M-0.62,-0.06H0.62V0.06H-0.62Z"]}}
 }},
{"data": {"name": "notes"}, "transform": [{"filter": "datum.p == '0.01'"}],
 "mark": {"type": "text", "font": "Liberation Serif", "fontSize": 36, "fontStyle": "italic", "align": "right", "baseline": "middle", "dx": -5, "color": "black"},
 "encoding": {"x": {"field": "z", "type": "quantitative", "axis": null}, "y": {"field": "F", "type": "quantitative", "axis": null}, "text": {"value": "φ"}}},
{"data": {"name": "notes"}, "transform": [{"filter": "datum.p == '0.01'"}],
 "mark": {"type": "text", "font": "Liberation Serif", "fontSize": 36, "align": "left", "baseline": "middle", "color": "black"},
 "encoding": {"x": {"field": "z", "type": "quantitative", "axis": null}, "y": {"field": "F", "type": "quantitative", "axis": null}, "text": {"field": "t"}}}
],
"resolve": {"axis": {"x": "independent", "y": "independent"}}
}
]
},
{
"spacing": 24,
"resolve": {"scale": {"color": "independent", "shape": "independent"}, "legend": {"color": "independent", "shape": "independent"}},
"hconcat": [
{
"width": 577, "height": 535,
"transform": [{"filter": "datum.p == '0.02'"}],
"layer": [
{"mark": {"type": "line", "strokeWidth": 3, "interpolate": "monotone"},
 "encoding": {
  "x": {"field": "z", "type": "quantitative", "scale": {"domain": [0, 5.5], "nice": false, "zero": false}, "axis": {"values": [0,0.55,1.1,1.65,2.2,2.75,3.3,3.85,4.4,4.95,5.5], "format": ".3~g", "labelFont": "Liberation Serif", "title": "z", "titleFont": "Liberation Sans", "titleFontSize": 26, "titlePadding": 19, "labelFlush": false, "labelOverlap": false}},
  "y": {"field": "F", "type": "quantitative", "scale": {"domain": [0, 14], "nice": false, "zero": false}, "axis": {"values": [0,1.4,2.8,4.2,5.6,7,8.4,9.8,11.2,12.6,14], "format": ".3~g", "labelFont": "Liberation Serif", "title": "F(z,t)", "titleFont": "Liberation Serif", "titleFontSize": 36, "titlePadding": 4, "labelOverlap": false}},
  "color": {"field": "s", "type": "nominal", "scale": {"domain": ["α = 0.2","α = 0.5","α = 0.7","α = 1"], "range": ["#000000","#ff0000","#0b800b","#0000ff"]}}
 }},
{"transform": [{"filter": "datum.m == 1 && datum.s == 'α = 0.2'"}],
 "mark": {"type": "point", "filled": true, "opacity": 1, "shape": "triangle-up", "size": 330},
 "encoding": {
  "x": {"field": "z", "type": "quantitative", "axis": {"orient": "top", "values": [0,0.55,1.1,1.65,2.2,2.75,3.3,3.85,4.4,4.95,5.5], "labels": false, "title": null}},
  "y": {"field": "F", "type": "quantitative", "axis": {"orient": "right", "values": [0,1.4,2.8,4.2,5.6,7,8.4,9.8,11.2,12.6,14], "labels": false, "title": null}},
  "color": {"field": "s", "type": "nominal"}
 }},
{"transform": [{"filter": "datum.m == 1 && datum.s == 'α = 0.5'"}],
 "mark": {"type": "point", "filled": true, "opacity": 1, "shape": "circle", "size": 300},
 "encoding": {"x": {"field": "z", "type": "quantitative", "axis": null}, "y": {"field": "F", "type": "quantitative", "axis": null}, "color": {"field": "s", "type": "nominal"}}},
{"transform": [{"filter": "datum.m == 1 && datum.s == 'α = 0.7'"}],
 "mark": {"type": "point", "filled": true, "opacity": 1, "shape": "diamond", "size": 240},
 "encoding": {"x": {"field": "z", "type": "quantitative", "axis": null}, "y": {"field": "F", "type": "quantitative", "axis": null}, "color": {"field": "s", "type": "nominal"}}},
{"transform": [{"filter": "datum.m == 1 && datum.s == 'α = 1'"}],
 "mark": {"type": "point", "filled": true, "opacity": 1, "shape": "square", "size": 360},
 "encoding": {"x": {"field": "z", "type": "quantitative", "axis": null}, "y": {"field": "F", "type": "quantitative", "axis": null}, "color": {"field": "s", "type": "nominal"}}},
{"transform": [{"filter": "false"}],
 "mark": {"type": "point", "filled": true, "opacity": 1},
 "encoding": {
  "color": {"field": "s", "type": "nominal"},
  "shape": {"field": "s", "type": "nominal", "scale": {"domain": ["α = 0.2","α = 0.5","α = 0.7","α = 1"], "range": ["M-1,0.28L-0.62,-0.42L-0.24,0.28Z M0.24,0.28L0.62,-0.42L1,0.28Z M-0.62,-0.05H0.62V0.07H-0.62Z","M-1,0A0.35,0.35 0 1,1 -0.3,0A0.35,0.35 0 1,1 -1,0Z M0.3,0A0.35,0.35 0 1,1 1,0A0.35,0.35 0 1,1 0.3,0Z M-0.65,-0.06H0.65V0.06H-0.65Z","M-1,0L-0.65,-0.32L-0.3,0L-0.65,0.32Z M0.3,0L0.65,-0.32L1,0L0.65,0.32Z M-0.65,-0.06H0.65V0.06H-0.65Z","M-1,-0.38H-0.24V0.38H-1Z M0.24,-0.38H1V0.38H0.24Z M-0.62,-0.06H0.62V0.06H-0.62Z"]}}
 }},
{"data": {"name": "notes"}, "transform": [{"filter": "datum.p == '0.02'"}],
 "mark": {"type": "text", "font": "Liberation Serif", "fontSize": 36, "fontStyle": "italic", "align": "right", "baseline": "middle", "dx": -5, "color": "black"},
 "encoding": {"x": {"field": "z", "type": "quantitative", "axis": null}, "y": {"field": "F", "type": "quantitative", "axis": null}, "text": {"value": "φ"}}},
{"data": {"name": "notes"}, "transform": [{"filter": "datum.p == '0.02'"}],
 "mark": {"type": "text", "font": "Liberation Serif", "fontSize": 36, "align": "left", "baseline": "middle", "color": "black"},
 "encoding": {"x": {"field": "z", "type": "quantitative", "axis": null}, "y": {"field": "F", "type": "quantitative", "axis": null}, "text": {"field": "t"}}}
],
"resolve": {"axis": {"x": "independent", "y": "independent"}}
},
{
"width": 572, "height": 536,
"transform": [{"filter": "datum.p == '0.04'"}],
"layer": [
{"mark": {"type": "line", "strokeWidth": 3, "interpolate": "monotone"},
 "encoding": {
  "x": {"field": "z", "type": "quantitative", "scale": {"domain": [0, 5.5], "nice": false, "zero": false}, "axis": {"values": [0,0.55,1.1,1.65,2.2,2.75,3.3,3.85,4.4,4.95,5.5], "format": ".3~g", "labelFont": "Liberation Serif", "title": "z", "titleFont": "Liberation Sans", "titleFontSize": 26, "titlePadding": 19, "labelFlush": false, "labelOverlap": false}},
  "y": {"field": "F", "type": "quantitative", "scale": {"domain": [0, 14], "nice": false, "zero": false}, "axis": {"values": [0,1.4,2.8,4.2,5.6,7,8.4,9.8,11.2,12.6,14], "format": ".3~g", "labelFont": "Liberation Serif", "title": "F(z,t)", "titleFont": "Liberation Serif", "titleFontSize": 36, "titlePadding": 4, "labelOverlap": false}},
  "color": {"field": "s", "type": "nominal", "scale": {"domain": ["α = 0.2","α = 0.5","α = 0.7","α = 1"], "range": ["#000000","#ff0000","#0b800b","#0000ff"]}}
 }},
{"transform": [{"filter": "datum.m == 1 && datum.s == 'α = 0.2'"}],
 "mark": {"type": "point", "filled": true, "opacity": 1, "shape": "triangle-up", "size": 330},
 "encoding": {
  "x": {"field": "z", "type": "quantitative", "axis": {"orient": "top", "values": [0,0.55,1.1,1.65,2.2,2.75,3.3,3.85,4.4,4.95,5.5], "labels": false, "title": null}},
  "y": {"field": "F", "type": "quantitative", "axis": {"orient": "right", "values": [0,1.4,2.8,4.2,5.6,7,8.4,9.8,11.2,12.6,14], "labels": false, "title": null}},
  "color": {"field": "s", "type": "nominal"}
 }},
{"transform": [{"filter": "datum.m == 1 && datum.s == 'α = 0.5'"}],
 "mark": {"type": "point", "filled": true, "opacity": 1, "shape": "circle", "size": 300},
 "encoding": {"x": {"field": "z", "type": "quantitative", "axis": null}, "y": {"field": "F", "type": "quantitative", "axis": null}, "color": {"field": "s", "type": "nominal"}}},
{"transform": [{"filter": "datum.m == 1 && datum.s == 'α = 0.7'"}],
 "mark": {"type": "point", "filled": true, "opacity": 1, "shape": "diamond", "size": 240},
 "encoding": {"x": {"field": "z", "type": "quantitative", "axis": null}, "y": {"field": "F", "type": "quantitative", "axis": null}, "color": {"field": "s", "type": "nominal"}}},
{"transform": [{"filter": "datum.m == 1 && datum.s == 'α = 1'"}],
 "mark": {"type": "point", "filled": true, "opacity": 1, "shape": "square", "size": 360},
 "encoding": {"x": {"field": "z", "type": "quantitative", "axis": null}, "y": {"field": "F", "type": "quantitative", "axis": null}, "color": {"field": "s", "type": "nominal"}}},
{"transform": [{"filter": "false"}],
 "mark": {"type": "point", "filled": true, "opacity": 1},
 "encoding": {
  "color": {"field": "s", "type": "nominal"},
  "shape": {"field": "s", "type": "nominal", "scale": {"domain": ["α = 0.2","α = 0.5","α = 0.7","α = 1"], "range": ["M-1,0.28L-0.62,-0.42L-0.24,0.28Z M0.24,0.28L0.62,-0.42L1,0.28Z M-0.62,-0.05H0.62V0.07H-0.62Z","M-1,0A0.35,0.35 0 1,1 -0.3,0A0.35,0.35 0 1,1 -1,0Z M0.3,0A0.35,0.35 0 1,1 1,0A0.35,0.35 0 1,1 0.3,0Z M-0.65,-0.06H0.65V0.06H-0.65Z","M-1,0L-0.65,-0.32L-0.3,0L-0.65,0.32Z M0.3,0L0.65,-0.32L1,0L0.65,0.32Z M-0.65,-0.06H0.65V0.06H-0.65Z","M-1,-0.38H-0.24V0.38H-1Z M0.24,-0.38H1V0.38H0.24Z M-0.62,-0.06H0.62V0.06H-0.62Z"]}}
 }},
{"data": {"name": "notes"}, "transform": [{"filter": "datum.p == '0.04'"}],
 "mark": {"type": "text", "font": "Liberation Serif", "fontSize": 36, "fontStyle": "italic", "align": "right", "baseline": "middle", "dx": -5, "color": "black"},
 "encoding": {"x": {"field": "z", "type": "quantitative", "axis": null}, "y": {"field": "F", "type": "quantitative", "axis": null}, "text": {"value": "φ"}}},
{"data": {"name": "notes"}, "transform": [{"filter": "datum.p == '0.04'"}],
 "mark": {"type": "text", "font": "Liberation Serif", "fontSize": 36, "align": "left", "baseline": "middle", "color": "black"},
 "encoding": {"x": {"field": "z", "type": "quantitative", "axis": null}, "y": {"field": "F", "type": "quantitative", "axis": null}, "text": {"field": "t"}}}
],
"resolve": {"axis": {"x": "independent", "y": "independent"}}
}
]
}
],
"config": {
 "view": {"stroke": "black", "strokeWidth": 1.5},
 "axis": {"labelFont": "Liberation Serif", "labelFontSize": 25, "labelColor": "black", "tickColor": "black", "tickWidth": 1.5, "tickSize": -9, "labelPadding": 13, "domain": false, "grid": false, "titleFont": "Liberation Serif", "titleColor": "black", "titleFontWeight": "normal"},
 "legend": {"orient": "top-right", "offset": 14, "strokeColor": "black", "strokeWidth": 1.5, "fillColor": "white", "padding": 6, "labelFont": "Liberation Serif", "labelFontSize": 34, "labelColor": "black", "symbolSize": 2600, "symbolStrokeWidth": 0, "rowPadding": -10, "labelOffset": 10, "title": null}
}
}
